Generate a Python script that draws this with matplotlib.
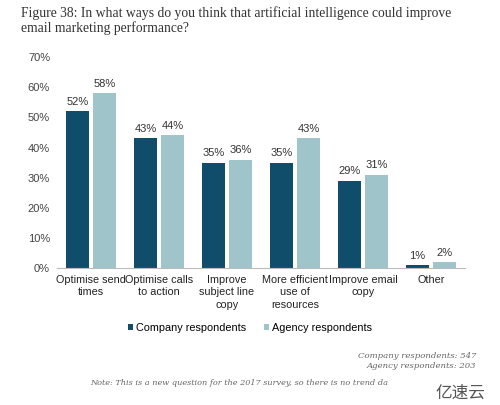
import numpy as np
import matplotlib.pyplot as plt

# data
categories = ['Optimise send\ntimes', 'Optimise calls\nto action', 'Improve\nsubject line\ncopy',
              'More efficient\nuse of\nresources', 'Improve email\ncopy', 'Other']
company = [52, 43, 35, 35, 29, 1]
agency = [58, 44, 36, 43, 31, 2]
yticks = [0, 10, 20, 30, 40, 50, 60, 70]

c_dark = '#0f4d6b'
c_light = '#9fc4ca'
sans = 'Liberation Sans'

fig = plt.figure(figsize=(5, 4.05), dpi=100)
ax = fig.add_axes([0.114, 0.338, 0.816, 0.521])

x = np.arange(len(categories))
w = 0.34
b1 = ax.bar(x - w / 2 - 0.03, company, w, color=c_dark, label='Company respondents')
b2 = ax.bar(x + w / 2 + 0.03, agency, w, color=c_light, label='Agency respondents')

for bars, vals in [(b1, company), (b2, agency)]:
    for r, v in zip(bars, vals):
        ax.text(r.get_x() + r.get_width() / 2, v + 1.5, f'{v}%', ha='center', va='bottom',
                fontsize=8, family=sans, color='#333333')

ax.set_ylim(0, 70)
ax.set_xlim(-0.5, len(categories) - 0.5)
ax.set_yticks(yticks)
ax.set_yticklabels([f'{t}%' for t in yticks], fontsize=8, family=sans, color='#444444')
ax.set_xticks(x)
ax.set_xticklabels(categories, fontsize=7.8, family=sans, color='#222222', linespacing=1.3)
ax.tick_params(length=0, pad=5)
for s in ['top', 'right', 'left']:
    ax.spines[s].set_visible(False)
ax.spines['bottom'].set_color('#bbbbbb')

fig.legend(handles=[b1, b2], loc='center', bbox_to_anchor=(0.5, 0.19), ncol=2, frameon=False,
           prop={'family': sans, 'size': 7.8}, handlelength=0.5, handleheight=0.5,
           columnspacing=1.6, handletextpad=0.3)

fig.text(0.042, 0.985, 'Figure 38: In what ways do you think that artificial intelligence could improve\n'
         'email marketing performance?', ha='left', va='top', fontsize=9.85,
         family='Liberation Serif', color='#333333', linespacing=1.1)

fig.text(0.952, 0.108, 'Company respondents: 547\nAgency respondents: 203', ha='right', va='center',
         fontsize=6.1, family='DejaVu Serif', style='italic', color='#666666', linespacing=1.35)
fig.text(0.18, 0.054, 'Note: This is a new question for the 2017 survey, so there is no trend da',
         ha='left', va='center', fontsize=5.9, family='DejaVu Serif', style='italic', color='#666666')
# the reference cuts the note off on the right
fig.patches.append(plt.Rectangle((0.782, 0.0), 0.3, 0.075, transform=fig.transFigure,
                                 color='white', zorder=5))
fig.text(0.97, 0.03, '亿速云', ha='right', va='center', fontsize=12,
         family=['Noto Sans CJK SC', 'DejaVu Sans'], color='#555555', zorder=6)

fig.savefig('out.png', dpi=100)
